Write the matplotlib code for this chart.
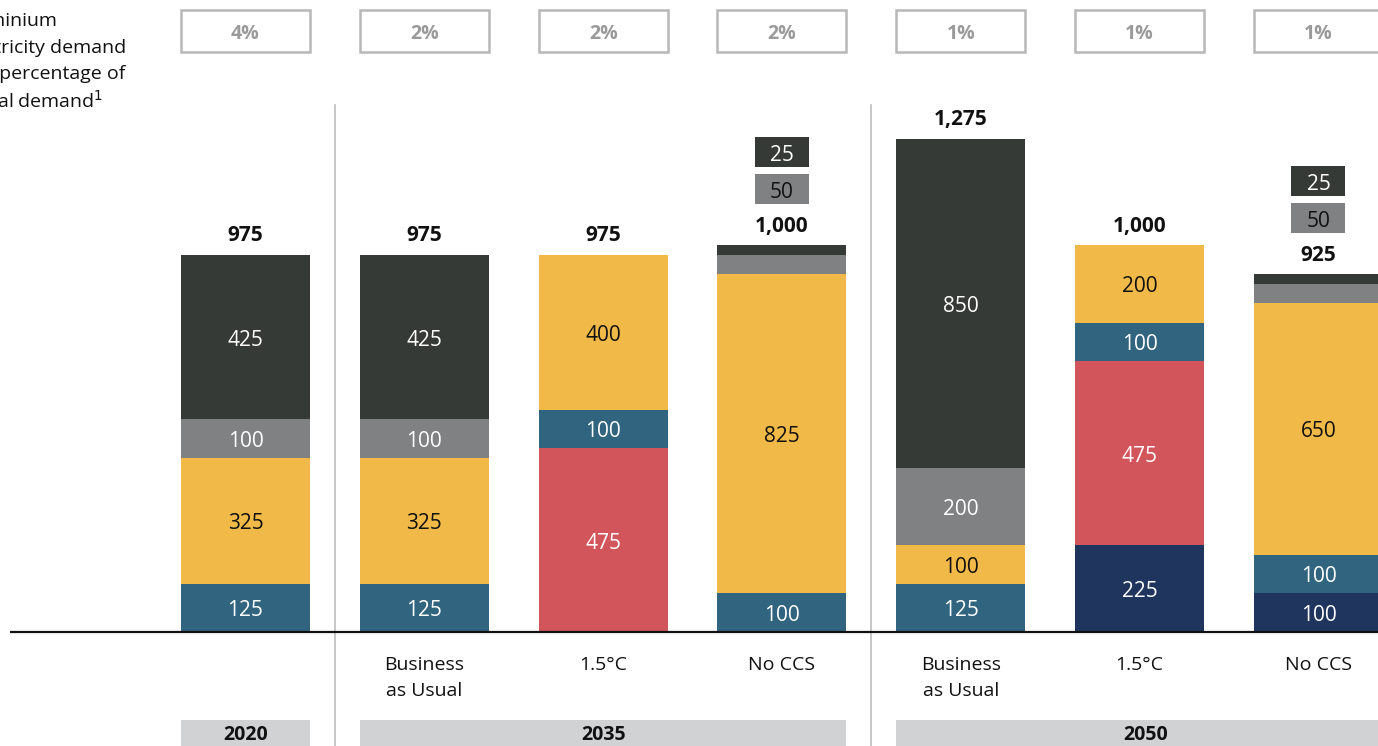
import matplotlib
matplotlib.use("Agg")
import matplotlib.pyplot as plt
from matplotlib.patches import Rectangle
import numpy as np

plt.rcParams['font.family'] = ['Open Sans', 'DejaVu Sans']

# ---------------- data ----------------
scenarios = ["", "Business\nas Usual", "1.5°C", "No CCS", "Business\nas Usual", "1.5°C", "No CCS"]
share_of_global = ["4%", "2%", "2%", "2%", "1%", "1%", "1%"]
years = ["2020", "2035", "2050"]
year_groups = [(0, 0), (1, 3), (4, 6)]

# stacked segments, bottom to top
navy = [0, 0, 0, 0, 0, 225, 100]
red = [0, 0, 475, 0, 0, 475, 0]
teal = [125, 125, 100, 100, 125, 100, 100]
yellow = [325, 325, 400, 825, 100, 200, 650]
gray = [100, 100, 0, 50, 200, 0, 50]
dark = [425, 425, 0, 25, 850, 0, 25]

series = [navy, red, teal, yellow, gray, dark]
colors = ["#1f355e", "#d1555a", "#31647f", "#f0b948", "#808183", "#363a37"]
text_colors = ["white", "white", "white", "#111111", "white", "white"]

left_note = ["Aluminium", "electricity demand", "as a percentage of", "global demand$^{1}$"]

# ---------------- figure ----------------
W, H = 1378, 746
fig = plt.figure(figsize=(W / 100, H / 100), dpi=100)
ax = fig.add_axes([0, 0, 1, 1])

px_per_cat = 178.83
x0_px = 245.5
base_px = 632
px_per_unit = 0.38667
TDY = 3  # text vertical nudge in px (font metrics)

def px2x(p):
    return (p - x0_px) / px_per_cat

def py2y(p):
    return (base_px - p) / px_per_unit

def ty(p):
    return py2y(p + TDY)

ax.set_xlim(px2x(0), px2x(W))
ax.set_ylim(py2y(H), py2y(0))
ax.axis("off")

n = len(scenarios)
x = np.arange(n)
bw = 129 / px_per_cat
dty = TDY / px_per_unit

bottoms = np.zeros(n)
for vals, c, tc in zip(series, colors, text_colors):
    vals = np.array(vals, dtype=float)
    ax.bar(x, vals, bw, bottom=bottoms, color=c, linewidth=0, zorder=2)
    for i in range(n):
        if vals[i] >= 100:
            ax.text(x[i], bottoms[i] + vals[i] / 2 - dty, f"{int(vals[i]):,}",
                    ha="center", va="center", color=tc, fontsize=15, zorder=3)
    bottoms += vals

totals = bottoms
# floating small-value boxes
small_w = 54 / px_per_cat
box_h = 30 / px_per_unit
gap = 7 / px_per_unit
for i in range(n):
    ax.text(x[i], totals[i] + 22 / px_per_unit - dty, f"{int(totals[i]):,}",
            ha="center", va="center", fontsize=15, fontweight="bold",
            color="#111111", zorder=3)
    smalls = [(gray[i], colors[4], "#111111"), (dark[i], colors[5], "white")]
    if 0 < gray[i] < 100 or 0 < dark[i] < 100:
        yb = totals[i] + 41 / px_per_unit
        for v, c, tc in smalls:
            if 0 < v < 100:
                ax.add_patch(Rectangle((x[i] - small_w / 2, yb), small_w, box_h,
                                       facecolor=c, edgecolor="none", zorder=2))
                ax.text(x[i], yb + box_h / 2 - dty, f"{v}", ha="center", va="center",
                        color=tc, fontsize=15, zorder=3)
                yb += box_h + gap

# baseline
ax.plot([px2x(10), px2x(W)], [0, 0], color="#111111", lw=1.6, zorder=4,
        solid_capstyle="butt")

# group separators
for s in [0.5, 3.5]:
    ax.plot([s, s], [py2y(105), py2y(H)], color="#bdbdbd", lw=1.2, zorder=1)

# top percentage boxes
for i in range(n):
    ax.add_patch(Rectangle((x[i] - bw / 2, py2y(52)), bw, py2y(10) - py2y(52),
                           facecolor="white", edgecolor="#b8b8b8", lw=1.8, zorder=2))
    ax.text(x[i], ty(31), share_of_global[i], ha="center", va="center",
            fontsize=14, fontweight="bold", color="#9a9a9a", zorder=3)

# scenario labels
for i in range(n):
    for k, line in enumerate(scenarios[i].split("\n")):
        if line:
            ax.text(x[i], ty(662 + 26 * k), line, ha="center", va="center",
                    fontsize=14, color="#111111")

# year bars
for yr, (a, b) in zip(years, year_groups):
    left = x[a] - bw / 2
    right = x[b] + bw / 2 + (0.07 if b == n - 1 else 0)
    ax.add_patch(Rectangle((left, py2y(H + 10)), right - left, py2y(720) - py2y(H + 10),
                           facecolor="#d1d2d4", edgecolor="none", zorder=1))
    ax.text((left + right) / 2, py2y(735), yr, ha="center", va="center",
            fontsize=14, fontweight="bold", color="#111111", zorder=3)

# left note (cropped on the left like the reference)
for k, line in enumerate(left_note):
    ax.text(px2x(-42), ty(18 + 26.7 * k), line, ha="left", va="center",
            fontsize=14, color="#111111")

fig.savefig("out.png", dpi=100)
